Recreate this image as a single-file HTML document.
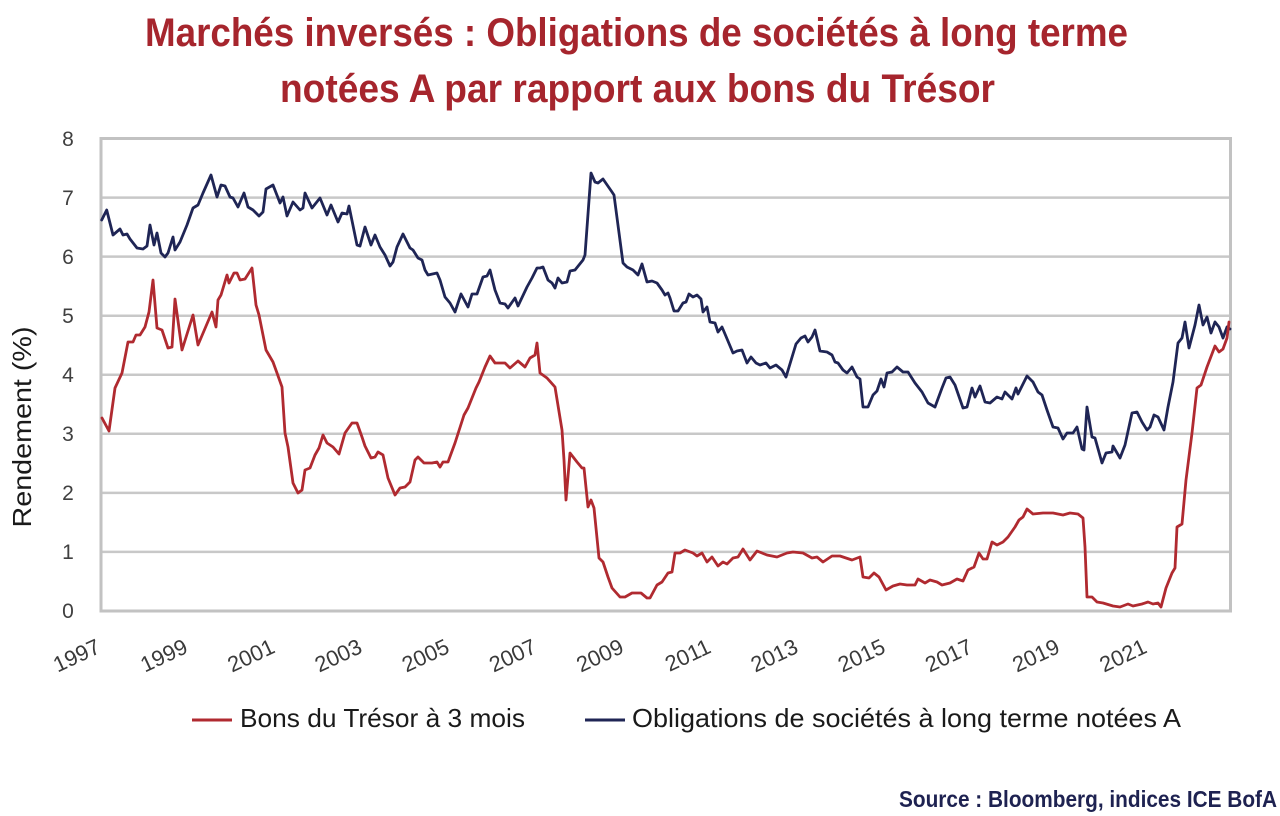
<!DOCTYPE html>
<html>
<head>
<meta charset="utf-8">
<style>
  html, body { margin:0; padding:0; background:#ffffff; }
  body { width:1280px; height:816px; overflow:hidden; }
  svg { display:block; }
  text { font-family: "Liberation Sans", "DejaVu Sans", sans-serif; }
</style>
</head>
<body>
<svg width="1280" height="816" viewBox="0 0 1280 816" xmlns="http://www.w3.org/2000/svg">
  <rect x="0" y="0" width="1280" height="816" fill="#ffffff"/>

  <!-- Title -->
  <text x="636.5" y="46" text-anchor="middle" font-size="40" font-weight="bold" fill="#a6252d" textLength="983" lengthAdjust="spacingAndGlyphs">Marchés inversés : Obligations de sociétés à long terme</text>
  <text x="637.5" y="102" text-anchor="middle" font-size="40" font-weight="bold" fill="#a6252d" textLength="715" lengthAdjust="spacingAndGlyphs">notées A par rapport aux bons du Trésor</text>

  <!-- Gridlines -->
  <g stroke="#c8c8c8" stroke-width="2.5">
    <line x1="101" y1="197.6" x2="1230.5" y2="197.6"/>
    <line x1="101" y1="256.6" x2="1230.5" y2="256.6"/>
    <line x1="101" y1="315.7" x2="1230.5" y2="315.7"/>
    <line x1="101" y1="374.7" x2="1230.5" y2="374.7"/>
    <line x1="101" y1="433.8" x2="1230.5" y2="433.8"/>
    <line x1="101" y1="492.9" x2="1230.5" y2="492.9"/>
    <line x1="101" y1="551.9" x2="1230.5" y2="551.9"/>
  </g>
  <rect x="101" y="138.5" width="1129.5" height="472.5" fill="none" stroke="#c2c2c2" stroke-width="3"/>

  <!-- Y tick labels -->
  <g font-size="21" fill="#404040" text-anchor="middle">
    <text x="68" y="146">8</text>
    <text x="68" y="205">7</text>
    <text x="68" y="264">6</text>
    <text x="68" y="323">5</text>
    <text x="68" y="382">4</text>
    <text x="68" y="441">3</text>
    <text x="68" y="500">2</text>
    <text x="68" y="559">1</text>
    <text x="68" y="618">0</text>
  </g>

  <!-- Y axis label -->
  <text x="0" y="0" transform="translate(31,427) rotate(-90)" text-anchor="middle" font-size="26" fill="#1a1a1a" textLength="201" lengthAdjust="spacingAndGlyphs">Rendement (%)</text>

  <!-- X tick labels -->
  <g font-size="22" fill="#3a3a3a" text-anchor="end">
    <text transform="translate(102,652) rotate(-25)">1997</text>
    <text transform="translate(189.2,652) rotate(-25)">1999</text>
    <text transform="translate(276.4,652) rotate(-25)">2001</text>
    <text transform="translate(363.6,652) rotate(-25)">2003</text>
    <text transform="translate(450.8,652) rotate(-25)">2005</text>
    <text transform="translate(538,652) rotate(-25)">2007</text>
    <text transform="translate(625.2,652) rotate(-25)">2009</text>
    <text transform="translate(712.4,652) rotate(-25)">2011</text>
    <text transform="translate(799.6,652) rotate(-25)">2013</text>
    <text transform="translate(886.8,652) rotate(-25)">2015</text>
    <text transform="translate(974,652) rotate(-25)">2017</text>
    <text transform="translate(1061.2,652) rotate(-25)">2019</text>
    <text transform="translate(1148.4,652) rotate(-25)">2021</text>
  </g>

  <!-- Blue series: long-term A corporate bonds -->
  <polyline fill="none" stroke="#1f2555" stroke-width="2.8" stroke-linejoin="round" stroke-linecap="round" points="101.7,220 106.7,210 113,235 120,229 123,235 127,234 130,239 137,248 143,249 147,246 150,225 154,245 157,233 161,253 165,257 168,253 173,237 175,250 180,242 187,225 193,208 198,205 203,193 211,175 217,197 221,185 225,186 230,197 233,198 238,207 244,193 248,207 253,210 259,216 263,212 266,189 273,185 280,203 283,197 287,216 293,202 300,210 303,208 305,193 312,208 320,198 327,215 331,205 338,222 342,213 347,214 349,206 357,245 360,246 365,227 371,245 375,235 380,247 385,255 390,266 393,262 397,247 403,234 410,248 413,250 418,258 422,260 425,270 428,275 437,273 440,280 445,297 450,303 455,312 461,294 468,307 472,294 477,294 483,277 487,276 490,270 495,290 500,303 505,304 508,308 515,298 518,306 527,287 532,278 537,268 540,268 543,267 548,280 552,283 555,288 558,278 562,283 567,282 570,271 575,270 583,260 585,255 591,173 595,182 598,183 603,179 612,192 614,195 623,263 627,267 633,270 638,275 642,264 647,282 652,281 657,283 662,290 665,295 668,293 670,298 674,311 678,311 683,303 686,302 689,294 693,297 697,295 701,299 703,312 707,307 710,322 715,323 718,332 722,327 725,334 733,353 737,351 742,350 747,363 751,357 756,363 760,365 766,363 770,368 776,365 782,370 786,377 796,344 801,338 805,336 808,342 812,337 815,330 820,351 827,352 832,355 835,362 838,363 843,370 847,373 852,367 857,377 860,379 863,407 868,407 873,395 877,391 881,379 884,387 887,373 892,372 897,367 903,372 908,372 915,383 922,392 928,403 935,407 942,388 946,378 950,377 955,385 963,408 967,407 972,388 975,397 980,386 985,402 990,403 997,397 1002,399 1005,392 1012,399 1016,388 1018,394 1027,376 1033,382 1038,392 1042,395 1047,410 1053,427 1058,428 1063,439 1067,433 1073,433 1077,427 1082,449 1084,450 1087,407 1092,437 1095,438 1102,463 1106,453 1112,452 1113,446 1120,458 1125,445 1132,413 1137,412 1142,422 1147,430 1150,427 1154,415 1158,417 1164,430 1168,407 1173,382 1178,343 1182,338 1185,322 1189,348 1195,325 1199,305 1203,325 1207,317 1211,333 1215,322 1219,327 1223,338 1227,327 1230,329"/>

  <!-- Red series: 3-month T-bills -->
  <polyline fill="none" stroke="#b02a30" stroke-width="2.8" stroke-linejoin="round" stroke-linecap="round" points="102,418 109,431 115,388 122,373 128,342 133,342 136,335 140,335 145,327 149,312 153,280 157,328 162,330 168,348 172,347 175,299 182,350 193,315 198,345 212,312 216,327 218,300 221,295 227,275 229,283 234,273 237,273 240,280 245,279 252,268 256,305 259,315 266,350 273,362 277,373 282,387 285,433 288,447 293,483 298,493 302,490 305,470 310,468 315,455 319,448 323,435 327,443 333,447 339,454 345,433 352,423 357,423 362,437 365,446 371,458 375,457 378,452 383,455 388,478 395,495 400,488 405,487 410,482 415,460 418,457 424,463 432,463 437,462 440,467 443,462 448,462 455,443 464,415 468,408 476,388 479,382 485,367 490,356 495,363 505,363 510,368 518,361 525,367 530,358 535,355 537,343 540,373 547,378 555,387 562,430 564,460 566,500 570,453 577,462 582,468 584,468 588,507 591,500 594,508 599,558 603,562 608,577 612,588 620,597 625,597 632,593 641,593 647,598 650,598 657,585 662,582 668,573 672,572 675,553 680,553 685,550 693,553 697,556 702,553 707,562 712,557 718,566 723,562 727,564 733,558 738,557 743,549 750,560 757,551 767,555 777,557 787,553 793,552 803,553 812,558 817,557 823,562 832,556 840,556 852,560 860,557 863,577 869,578 874,573 879,577 886,590 893,586 900,584 907,585 915,585 918,579 925,583 930,580 937,582 942,585 950,583 957,579 963,581 968,570 974,567 979,553 983,559 987,559 992,542 997,545 1003,542 1008,537 1015,527 1019,520 1023,517 1027,509 1033,514 1043,513 1053,513 1063,515 1070,513 1078,514 1083,518 1085,547 1087,597 1092,597 1097,602 1103,603 1113,606 1120,607 1128,604 1133,606 1142,604 1148,602 1153,604 1158,603 1161,607 1166,588 1172,573 1175,568 1177,527 1182,524 1186,480 1192,433 1197,388 1201,385 1207,367 1215,346 1219,352 1223,349 1227,338 1229,322"/>

  <!-- Legend -->
  <line x1="192" y1="720" x2="232" y2="720" stroke="#b02a30" stroke-width="3"/>
  <text x="240" y="727" font-size="26" fill="#1a1a1a" textLength="285" lengthAdjust="spacingAndGlyphs">Bons du Trésor à 3 mois</text>
  <line x1="585" y1="720" x2="625" y2="720" stroke="#1f2555" stroke-width="3"/>
  <text x="632" y="727" font-size="26" fill="#1a1a1a" textLength="549" lengthAdjust="spacingAndGlyphs">Obligations de sociétés à long terme notées A</text>

  <!-- Source -->
  <text x="899" y="807" font-size="23" font-weight="bold" fill="#1e2251" textLength="378" lengthAdjust="spacingAndGlyphs">Source : Bloomberg, indices ICE BofA</text>
</svg>
</body>
</html>
